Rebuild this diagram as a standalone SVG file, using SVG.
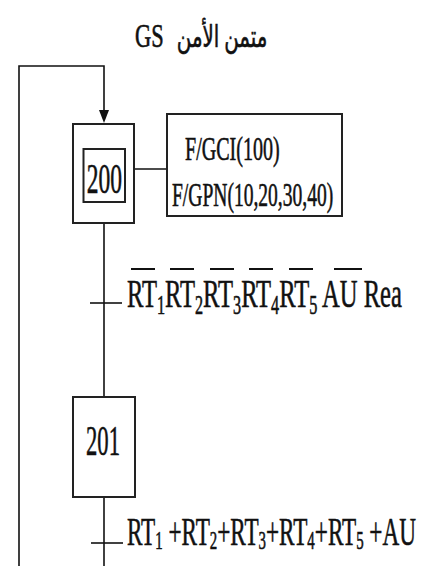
<svg xmlns="http://www.w3.org/2000/svg" width="443" height="566" viewBox="0 0 443 566">
<defs>
<style>
.ln{fill:none;stroke:#111;stroke-width:1.6}
.bx{fill:#fff;stroke:#222;stroke-width:2}
.t{font-family:"Liberation Serif","Times New Roman",serif;fill:#111;stroke:#111;stroke-width:0.6}
.ar{font-family:"Liberation Serif","DejaVu Sans","Noto Sans",serif;fill:#111}
.ov{stroke:#111;stroke-width:1.8}
</style>
</defs>
<rect width="443" height="566" fill="#fff"/>

<g id="title">
<text class="t" font-size="34" transform="translate(0,47) scale(0.66,1)"><tspan x="204.5">GS</tspan><tspan class="ar" font-size="30" x="268">متمن الأمن</tspan></text>
</g>

<g id="connectors">
<path class="ln" d="M104,566 V497"/>
<path class="ln" d="M19,566 V66 H104 V110"/>
<path d="M99,110 L109,110 L104,123 Z" fill="#111"/>
<path class="ln" d="M104,223 V397"/>
<path class="ln" d="M134,169 H167"/>
<path class="ln" d="M90,303 H122"/>
<path class="ln" d="M91,543 H123"/>
</g>

<g id="step200">
<rect class="bx" x="73" y="124" width="61" height="99"/>
<rect class="bx" x="83.5" y="149" width="41.5" height="53"/>
<text class="t" font-size="42" text-anchor="middle" transform="translate(104.5,193) scale(0.56,1)" x="0" y="0">200</text>
</g>

<g id="action200">
<rect class="bx" x="167" y="114" width="175" height="102"/>
<text class="t" font-size="34" transform="translate(185,160) scale(0.59,1)" x="0" y="0">F/GCI(100)</text>
<text class="t" font-size="34" transform="translate(172,206) scale(0.575,1)" x="0" y="0">F/GPN(10,20,30,40)</text>
</g>

<g id="transition1">
<text class="t" font-size="41" transform="translate(127,307) scale(0.6,1)" x="0" y="0"><tspan>RT</tspan><tspan font-size="27" dy="7">1</tspan><tspan dy="-7">RT</tspan><tspan font-size="27" dy="7">2</tspan><tspan dy="-7">RT</tspan><tspan font-size="27" dy="7">3</tspan><tspan dy="-7">RT</tspan><tspan font-size="27" dy="7">4</tspan><tspan dy="-7">RT</tspan><tspan font-size="27" dy="7">5</tspan><tspan dy="-7"> AU Rea</tspan></text>
<path class="ov" d="M131,269 H155 M170,269 H194 M210,269 H234 M249,269 H273 M289,269 H313 M334,269 H362"/>
</g>

<g id="step201">
<rect class="bx" x="73" y="397" width="62" height="100"/>
<text class="t" font-size="42" text-anchor="middle" transform="translate(103,455) scale(0.54,1)" x="0" y="0">201</text>
</g>

<g id="transition2">
<text class="t" font-size="39" transform="translate(127,545) scale(0.595,1)" x="0" y="0"><tspan>RT</tspan><tspan font-size="25" dy="4">1</tspan><tspan dy="-4"> +RT</tspan><tspan font-size="25" dy="4">2</tspan><tspan dy="-4">+RT</tspan><tspan font-size="25" dy="4">3</tspan><tspan dy="-4">+RT</tspan><tspan font-size="25" dy="4">4</tspan><tspan dy="-4">+RT</tspan><tspan font-size="25" dy="4">5</tspan><tspan dy="-4"> +AU</tspan></text>
</g>
</svg>
